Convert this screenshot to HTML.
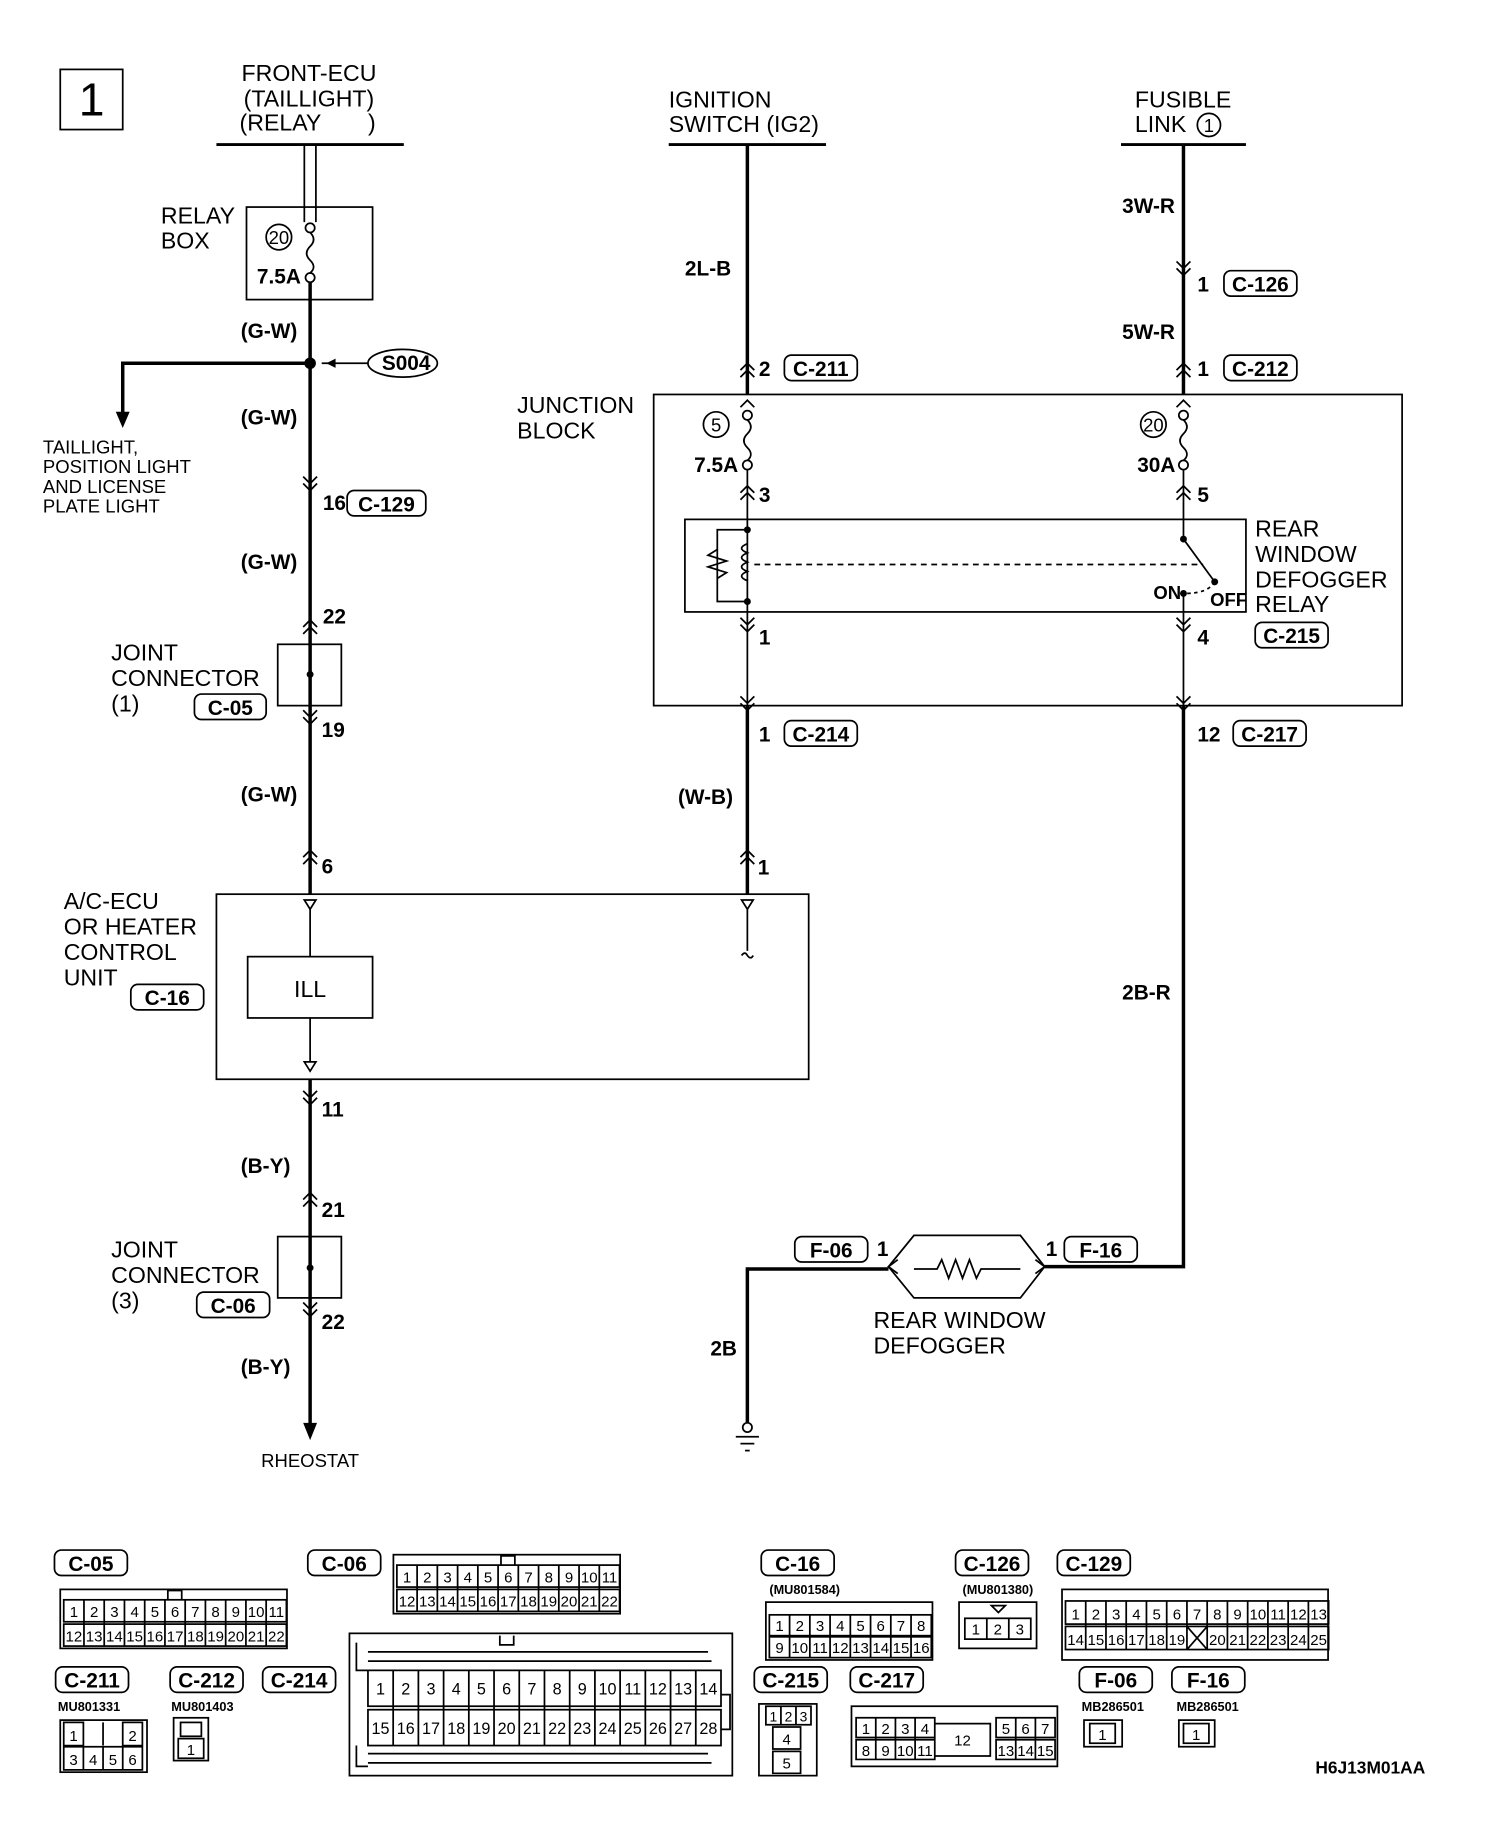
<!DOCTYPE html>
<html><head><meta charset="utf-8"><style>
html,body{margin:0;padding:0;background:#fff;}
svg{display:block;}
text{font-family:"Liberation Sans",sans-serif;fill:#000;}
.h{font-size:20px;}
.w{font-size:18px;font-weight:bold;}
.s{font-size:16px;}
.c{font-size:18px;font-weight:bold;}
.g{font-size:13px;}
.m{font-size:11px;font-weight:bold;}
</style></head><body>
<svg width="1504" height="1830" viewBox="0 0 1300 1582" xmlns="http://www.w3.org/2000/svg">
<g fill="none" stroke="#000" stroke-width="1.5">
<rect x="52" y="60" width="54" height="52"/>
<line x1="187" y1="125" x2="349" y2="125" stroke-width="2.5"/>
<line x1="578" y1="125" x2="714" y2="125" stroke-width="2.5"/>
<line x1="969" y1="125" x2="1077" y2="125" stroke-width="2.5"/>
<line x1="263" y1="125" x2="263" y2="192"/><line x1="273" y1="125" x2="273" y2="192"/>
<rect x="213" y="179" width="109" height="80"/>
<circle cx="241" cy="205" r="11"/>
<circle cx="268" cy="197" r="4"/><circle cx="268" cy="240" r="4"/>
<path d="M268 201 q6 6 0 12 q-6 6 0 12 q6 6 0 11"/>
<line x1="268" y1="244" x2="268" y2="773" stroke-width="3"/>
<line x1="268" y1="933" x2="268" y2="1235" stroke-width="3"/>
<polyline points="268,314 106,314 106,358" stroke-width="3"/>
<ellipse cx="348" cy="314" rx="30" ry="12"/>
<line x1="318" y1="314" x2="278" y2="314"/>
<rect x="240" y="557" width="55" height="53"/>
<rect x="187" y="773" width="512" height="160"/>
<rect x="214" y="827" width="108" height="53"/>
<rect x="240" y="1069" width="55" height="53"/>
<line x1="646" y1="125" x2="646" y2="341" stroke-width="3"/>
<line x1="646" y1="610" x2="646" y2="773" stroke-width="3"/>
<rect x="565" y="341" width="647" height="269"/>
<circle cx="619" cy="367" r="11"/>
<circle cx="646" cy="359" r="4"/><circle cx="646" cy="402" r="4"/>
<path d="M646 363 q6 6 0 12 q-6 6 0 12 q6 6 0 11"/>
<line x1="646" y1="406" x2="646" y2="610"/>
<rect x="592" y="449" width="485" height="80"/>
<path d="M646 458 L620 458 L620 520 L646 520"/>
<path d="M620 475 l-8 5 l16 5 l-16 5 l16 5 l-8 5"/>
<path d="M646 470 q-10 4 0 8 q-10 4 0 8 q-10 4 0 8 q-10 4 0 8"/>
<line x1="652" y1="488" x2="1040" y2="488" stroke-dasharray="5,4"/>
<line x1="1023" y1="125" x2="1023" y2="341" stroke-width="3"/>
<circle cx="997" cy="367" r="11"/>
<circle cx="1023" cy="359" r="4"/><circle cx="1023" cy="402" r="4"/>
<path d="M1023 363 q6 6 0 12 q-6 6 0 12 q6 6 0 11"/>
<line x1="1023" y1="406" x2="1023" y2="466"/>
<line x1="1023" y1="466" x2="1050" y2="503"/>
<path d="M1050 503 q-6 10 -25 10" stroke-dasharray="3,3"/>
<line x1="1023" y1="513" x2="1023" y2="610"/>
<polyline points="1023,610 1023,1095 903,1095" stroke-width="3"/>
<path d="M768 1095 L790 1068 L882 1068 L903 1095 L882 1122 L790 1122 Z"/>
<path d="M790 1097 H810 l4 -8 l6 16 l6 -16 l6 16 l6 -16 l6 16 l4 -8 H882"/>
<polyline points="768,1097 646,1097 646,1230" stroke-width="3"/>
<circle cx="646" cy="1234" r="4"/>
<line x1="636" y1="1242" x2="656" y2="1242"/><line x1="640" y1="1248" x2="652" y2="1248"/><line x1="644" y1="1254" x2="648" y2="1254"/>
<path d="M263 778 h10 l-5 8 z M641 778 h10 l-5 8 z M263 918 h10 l-5 8 z"/>
<line x1="646" y1="786" x2="646" y2="822"/><path d="M641 826 q3 -4 5 0 q3 4 5 0"/>
<line x1="268" y1="786" x2="268" y2="827"/><line x1="268" y1="880" x2="268" y2="918"/>
<!-- chevrons -->
<path d="M262 412 l6 6 l6 -6 M262 418 l6 6 l6 -6
M262 542 l6 -6 l6 6 M262 548 l6 -6 l6 6
M262 614 l6 6 l6 -6 M262 620 l6 6 l6 -6
M262 741 l6 -6 l6 6 M262 747 l6 -6 l6 6
M262 943 l6 6 l6 -6 M262 949 l6 6 l6 -6
M262 1037 l6 -6 l6 6 M262 1043 l6 -6 l6 6
M262 1126 l6 6 l6 -6 M262 1132 l6 6 l6 -6
M640 320 l6 -6 l6 6 M640 326 l6 -6 l6 6
M640 352 l6 -6 l6 6
M640 426 l6 -6 l6 6 M640 432 l6 -6 l6 6
M640 534 l6 6 l6 -6 M640 540 l6 6 l6 -6
M640 602 l6 6 l6 -6 M640 608 l6 6 l6 -6
M640 741 l6 -6 l6 6 M640 747 l6 -6 l6 6
M1017 226 l6 6 l6 -6 M1017 232 l6 6 l6 -6
M1017 320 l6 -6 l6 6 M1017 326 l6 -6 l6 6
M1017 352 l6 -6 l6 6
M1017 426 l6 -6 l6 6 M1017 432 l6 -6 l6 6
M1017 534 l6 6 l6 -6 M1017 540 l6 6 l6 -6
M1017 602 l6 6 l6 -6 M1017 608 l6 6 l6 -6
M776 1089 l-8 6 l8 6 M895 1089 l8 6 l-8 6"/>
<!-- connector labels -->
<g>
<rect x="168" y="600" width="62" height="22" rx="6"/><rect x="170" y="1117" width="63" height="22" rx="6"/>
<rect x="113" y="851" width="63" height="22" rx="6"/><rect x="300" y="424" width="68" height="22" rx="6"/>
<rect x="678" y="307" width="63" height="22" rx="6"/><rect x="1058" y="307" width="63" height="22" rx="6"/>
<rect x="1058" y="234" width="63" height="22" rx="6"/><rect x="678" y="623" width="63" height="22" rx="6"/>
<rect x="1066" y="623" width="63" height="22" rx="6"/><rect x="1085" y="538" width="63" height="22" rx="6"/>
<rect x="920" y="1069" width="63" height="22" rx="6"/><rect x="687" y="1069" width="63" height="22" rx="6"/>
<rect x="47" y="1340" width="63" height="22" rx="6"/><rect x="266" y="1340" width="63" height="22" rx="6"/>
<rect x="48" y="1441" width="63" height="22" rx="6"/><rect x="147" y="1441" width="63" height="22" rx="6"/>
<rect x="227" y="1441" width="63" height="22" rx="6"/><rect x="658" y="1340" width="63" height="22" rx="6"/>
<rect x="826" y="1340" width="63" height="22" rx="6"/><rect x="914" y="1340" width="63" height="22" rx="6"/>
<rect x="652" y="1441" width="63" height="22" rx="6"/><rect x="735" y="1441" width="63" height="22" rx="6"/>
<rect x="933" y="1441" width="63" height="22" rx="6"/><rect x="1013" y="1441" width="63" height="22" rx="6"/>
</g>
<!-- connector grids -->
<g id="c05">
<rect x="52" y="1374" width="196" height="51"/>
<rect x="55" y="1383" width="192.5" height="19"/><rect x="55" y="1404" width="192.5" height="19"/>
<path d="M72.5 1383v40M90 1383v40M107.5 1383v40M125 1383v40M142.5 1383v40M160 1383v40M177.5 1383v40M195 1383v40M212.5 1383v40M230 1383v40M145 1383v-8h12v8"/>
</g>
<g transform="translate(288,-30)">
<rect x="52" y="1374" width="196" height="51"/>
<rect x="55" y="1383" width="192.5" height="19"/><rect x="55" y="1404" width="192.5" height="19"/>
<path d="M72.5 1383v40M90 1383v40M107.5 1383v40M125 1383v40M142.5 1383v40M160 1383v40M177.5 1383v40M195 1383v40M212.5 1383v40M230 1383v40M145 1383v-8h12v8"/>
</g>
<rect x="302" y="1412" width="331" height="123"/>
<rect x="318" y="1444" width="305.2" height="31"/><rect x="318" y="1478" width="305.2" height="31"/>
<path d="M339.8 1444v65M361.6 1444v65M383.4 1444v65M405.2 1444v65M427 1444v65M448.8 1444v65M470.6 1444v65M492.4 1444v65M514.2 1444v65M536 1444v65M557.8 1444v65M579.6 1444v65M601.4 1444v65
M318 1428H612M318 1436H615M318 1516H612M318 1524H615M308 1420v24h10M308 1509v18h10M623 1465h8v30h-8M432 1414v8h12v-8"/>
<rect x="662" y="1385" width="144" height="50"/>
<rect x="665" y="1396" width="140" height="18"/><rect x="665" y="1415" width="140" height="18"/>
<path d="M682.5 1396v37M700 1396v37M717.5 1396v37M735 1396v37M752.5 1396v37M770 1396v37M787.5 1396v37"/>
<rect x="829" y="1385" width="67" height="40"/><rect x="834" y="1399" width="57" height="18"/>
<path d="M853 1399v18M872 1399v18M857 1388h12l-6 6z"/>
<rect x="918" y="1374" width="230" height="61"/>
<rect x="921" y="1384" width="227.5" height="20"/><rect x="921" y="1406" width="227.5" height="20"/>
<path d="M938.5 1384v42M956 1384v42M973.5 1384v42M991 1384v42M1008.5 1384v42M1026 1384v42M1043.5 1384v42M1061 1384v42M1078.5 1384v42M1096 1384v42M1113.5 1384v42M1131 1384v42M1026 1406l17.5 20M1043.5 1406l-17.5 20"/>
<rect x="52" y="1487" width="75" height="45"/>
<path d="M55 1489h17v20h-17zM106 1489h17v20h-17zM55 1510h68v20h-68zM72 1510v20M89 1510v20M106 1510v20M89 1489v20"/>
<rect x="150" y="1485" width="30" height="37"/><rect x="156" y="1489" width="18" height="12"/><rect x="154" y="1503" width="22" height="17"/>
<rect x="656" y="1473" width="50" height="62"/>
<path d="M662 1475h39v16h-39zM675 1475v16M688 1475v16M668 1493h24v19h-24zM668 1514h24v19h-24z"/>
<rect x="736" y="1475" width="178" height="52"/>
<path d="M740 1485h68v17h-68zM740 1504h68v17h-68zM757 1485v36M774 1485v36M791 1485v36M808 1490h48v28h-48zM861 1485h51v17h-51zM861 1504h51v17h-51zM878 1485v36M895 1485v36"/>
<rect x="937" y="1487" width="33" height="23"/><rect x="942" y="1490" width="22" height="17"/>
<rect x="1019" y="1487" width="31" height="23"/><rect x="1023" y="1490" width="22" height="17"/>
</g>
<g fill="#000">
<circle cx="268" cy="314" r="5"/>
<path d="M100 356 h12 l-6 14 z"/>
<path d="M262 1230 h12 l-6 15 z"/>
<path d="M282 314 l8 -4 v8 z"/>
<circle cx="268" cy="583" r="3"/><circle cx="268" cy="1096" r="3"/>
<circle cx="646" cy="458" r="3"/><circle cx="646" cy="520" r="3"/>
<circle cx="1023" cy="466" r="3"/><circle cx="1023" cy="513" r="3"/><circle cx="1050" cy="503" r="3"/>
</g>
<g class="c" text-anchor="middle">
<text x="199" y="618">C-05</text><text x="201.5" y="1135">C-06</text><text x="144.5" y="869">C-16</text>
<text x="334" y="442">C-129</text><text x="709.5" y="325">C-211</text><text x="1089.5" y="325">C-212</text>
<text x="1089.5" y="252">C-126</text><text x="709.5" y="641">C-214</text><text x="1097.5" y="641">C-217</text>
<text x="1116.5" y="556">C-215</text><text x="951.5" y="1087">F-16</text><text x="718.5" y="1087">F-06</text>
<text x="78.5" y="1358">C-05</text><text x="297.5" y="1358">C-06</text><text x="79.5" y="1459">C-211</text>
<text x="178.5" y="1459">C-212</text><text x="258.5" y="1459">C-214</text><text x="689.5" y="1358">C-16</text>
<text x="857.5" y="1358">C-126</text><text x="945.5" y="1358">C-129</text><text x="683.5" y="1459">C-215</text>
<text x="766.5" y="1459">C-217</text><text x="964.5" y="1459">F-06</text><text x="1044.5" y="1459">F-16</text>
</g>
<g class="g" text-anchor="middle">
<text x="63.8" y="1398">1</text><text x="81.3" y="1398">2</text><text x="98.8" y="1398">3</text><text x="116.3" y="1398">4</text><text x="133.8" y="1398">5</text><text x="151.3" y="1398">6</text><text x="168.8" y="1398">7</text><text x="186.3" y="1398">8</text><text x="203.8" y="1398">9</text><text x="221.3" y="1398">10</text><text x="238.8" y="1398">11</text>
<text x="63.8" y="1419">12</text><text x="81.3" y="1419">13</text><text x="98.8" y="1419">14</text><text x="116.3" y="1419">15</text><text x="133.8" y="1419">16</text><text x="151.3" y="1419">17</text><text x="168.8" y="1419">18</text><text x="186.3" y="1419">19</text><text x="203.8" y="1419">20</text><text x="221.3" y="1419">21</text><text x="238.8" y="1419">22</text>
<g transform="translate(288,-30)">
<text x="63.8" y="1398">1</text><text x="81.3" y="1398">2</text><text x="98.8" y="1398">3</text><text x="116.3" y="1398">4</text><text x="133.8" y="1398">5</text><text x="151.3" y="1398">6</text><text x="168.8" y="1398">7</text><text x="186.3" y="1398">8</text><text x="203.8" y="1398">9</text><text x="221.3" y="1398">10</text><text x="238.8" y="1398">11</text>
<text x="63.8" y="1419">12</text><text x="81.3" y="1419">13</text><text x="98.8" y="1419">14</text><text x="116.3" y="1419">15</text><text x="133.8" y="1419">16</text><text x="151.3" y="1419">17</text><text x="168.8" y="1419">18</text><text x="186.3" y="1419">19</text><text x="203.8" y="1419">20</text><text x="221.3" y="1419">21</text><text x="238.8" y="1419">22</text>
</g>
<g style="font-size:14px">
<text x="328.9" y="1465">1</text><text x="350.7" y="1465">2</text><text x="372.5" y="1465">3</text><text x="394.3" y="1465">4</text><text x="416.1" y="1465">5</text><text x="437.9" y="1465">6</text><text x="459.7" y="1465">7</text><text x="481.5" y="1465">8</text><text x="503.3" y="1465">9</text><text x="525.1" y="1465">10</text><text x="546.9" y="1465">11</text><text x="568.7" y="1465">12</text><text x="590.5" y="1465">13</text><text x="612.3" y="1465">14</text>
<text x="328.9" y="1499">15</text><text x="350.7" y="1499">16</text><text x="372.5" y="1499">17</text><text x="394.3" y="1499">18</text><text x="416.1" y="1499">19</text><text x="437.9" y="1499">20</text><text x="459.7" y="1499">21</text><text x="481.5" y="1499">22</text><text x="503.3" y="1499">23</text><text x="525.1" y="1499">24</text><text x="546.9" y="1499">25</text><text x="568.7" y="1499">26</text><text x="590.5" y="1499">27</text><text x="612.3" y="1499">28</text>
</g>
<text x="673.8" y="1410">1</text><text x="691.3" y="1410">2</text><text x="708.8" y="1410">3</text><text x="726.3" y="1410">4</text><text x="743.8" y="1410">5</text><text x="761.3" y="1410">6</text><text x="778.8" y="1410">7</text><text x="796.3" y="1410">8</text>
<text x="673.8" y="1429">9</text><text x="691.3" y="1429">10</text><text x="708.8" y="1429">11</text><text x="726.3" y="1429">12</text><text x="743.8" y="1429">13</text><text x="761.3" y="1429">14</text><text x="778.8" y="1429">15</text><text x="796.3" y="1429">16</text>
<text x="843.5" y="1413">1</text><text x="862.5" y="1413">2</text><text x="881.5" y="1413">3</text>
<text x="929.8" y="1400">1</text><text x="947.3" y="1400">2</text><text x="964.8" y="1400">3</text><text x="982.3" y="1400">4</text><text x="999.8" y="1400">5</text><text x="1017.3" y="1400">6</text><text x="1034.8" y="1400">7</text><text x="1052.3" y="1400">8</text><text x="1069.8" y="1400">9</text><text x="1087.3" y="1400">10</text><text x="1104.8" y="1400">11</text><text x="1122.3" y="1400">12</text><text x="1139.8" y="1400">13</text>
<text x="929.8" y="1422">14</text><text x="947.3" y="1422">15</text><text x="964.8" y="1422">16</text><text x="982.3" y="1422">17</text><text x="999.8" y="1422">18</text><text x="1017.3" y="1422">19</text><text x="1052.3" y="1422">20</text><text x="1069.8" y="1422">21</text><text x="1087.3" y="1422">22</text><text x="1104.8" y="1422">23</text><text x="1122.3" y="1422">24</text><text x="1139.8" y="1422">25</text>
<text x="63.5" y="1505">1</text><text x="114.5" y="1505">2</text>
<text x="63.5" y="1526">3</text><text x="80.5" y="1526">4</text><text x="97.5" y="1526">5</text><text x="114.5" y="1526">6</text>
<text x="165" y="1517">1</text>
<text x="668.5" y="1488" style="font-size:12px">1</text><text x="681.5" y="1488" style="font-size:12px">2</text><text x="694.5" y="1488" style="font-size:12px">3</text>
<text x="680" y="1508">4</text><text x="680" y="1529">5</text>
<text x="748.5" y="1499">1</text><text x="765.5" y="1499">2</text><text x="782.5" y="1499">3</text><text x="799.5" y="1499">4</text>
<text x="748.5" y="1518">8</text><text x="765.5" y="1518">9</text><text x="782.5" y="1518">10</text><text x="799.5" y="1518">11</text>
<text x="832" y="1509">12</text>
<text x="869.5" y="1499">5</text><text x="886.5" y="1499">6</text><text x="903.5" y="1499">7</text>
<text x="869.5" y="1518">13</text><text x="886.5" y="1518">14</text><text x="903.5" y="1518">15</text>
<text x="953" y="1504">1</text><text x="1034" y="1504">1</text>
</g>
<text x="68" y="100" style="font-size:40px">1</text>
<text class="h" x="267" y="70" text-anchor="middle">FRONT-ECU</text>
<text class="h" x="267" y="92" text-anchor="middle">(TAILLIGHT)</text>
<text class="h" x="207" y="113">(RELAY</text><text class="h" x="318" y="113">)</text>
<text class="h" x="139" y="193">RELAY</text><text class="h" x="139" y="215">BOX</text>
<text class="s" x="241" y="211" text-anchor="middle">20</text>
<text class="c" x="222" y="245">7.5A</text>
<text class="w" x="208" y="292">(G-W)</text>
<text class="w" x="208" y="367">(G-W)</text>
<text class="w" x="208" y="492">(G-W)</text>
<text class="w" x="208" y="693">(G-W)</text>
<text class="w" x="208" y="1014">(B-Y)</text>
<text class="w" x="208" y="1188">(B-Y)</text>
<text class="c" x="330" y="320">S004</text>
<text class="s" x="37" y="392">TAILLIGHT,</text>
<text class="s" x="37" y="409">POSITION LIGHT</text>
<text class="s" x="37" y="426">AND LICENSE</text>
<text class="s" x="37" y="443">PLATE LIGHT</text>
<text class="c" x="279" y="441">16</text>
<text class="c" x="279" y="539">22</text>
<text class="h" x="96" y="571">JOINT</text><text class="h" x="96" y="593">CONNECTOR</text><text class="h" x="96" y="615">(1)</text>
<text class="c" x="278" y="637">19</text>
<text class="c" x="278" y="755">6</text>
<text class="h" x="55" y="786">A/C-ECU</text><text class="h" x="55" y="808">OR HEATER</text><text class="h" x="55" y="830">CONTROL</text><text class="h" x="55" y="852">UNIT</text>
<text class="h" x="268" y="862" text-anchor="middle">ILL</text>
<text class="c" x="278" y="965">11</text>
<text class="c" x="278" y="1052">21</text>
<text class="h" x="96" y="1087">JOINT</text><text class="h" x="96" y="1109">CONNECTOR</text><text class="h" x="96" y="1131">(3)</text>
<text class="c" x="278" y="1149">22</text>
<text class="s" x="268" y="1268" text-anchor="middle">RHEOSTAT</text>
<text class="h" x="578" y="93">IGNITION</text><text class="h" x="578" y="114">SWITCH (IG2)</text>
<text class="w" x="592" y="238">2L-B</text>
<text class="c" x="656" y="325">2</text>
<text class="h" x="447" y="357">JUNCTION</text><text class="h" x="447" y="379">BLOCK</text>
<text class="s" x="619" y="373" text-anchor="middle">5</text>
<text class="c" x="600" y="408">7.5A</text>
<text class="c" x="656" y="434">3</text>
<text class="c" x="656" y="557">1</text>
<text class="c" x="656" y="641">1</text>
<text class="w" x="586" y="695">(W-B)</text>
<text class="c" x="655" y="756">1</text>
<text class="h" x="981" y="93">FUSIBLE</text><text class="h" x="981" y="114">LINK</text>
<circle cx="1045" cy="108" r="10" fill="none" stroke="#000" stroke-width="1.5"/>
<text class="s" x="1045" y="114" text-anchor="middle">1</text>
<text class="w" x="970" y="184">3W-R</text>
<text class="c" x="1035" y="252">1</text>
<text class="w" x="970" y="293">5W-R</text>
<text class="c" x="1035" y="325">1</text>
<text class="s" x="997" y="373" text-anchor="middle">20</text>
<text class="c" x="983" y="408">30A</text>
<text class="c" x="1035" y="434">5</text>
<text class="c" x="1035" y="557">4</text>
<text class="h" x="1085" y="464">REAR</text><text class="h" x="1085" y="486">WINDOW</text><text class="h" x="1085" y="508">DEFOGGER</text><text class="h" x="1085" y="529">RELAY</text>
<text class="s" x="997" y="518" style="font-weight:bold">ON</text><text class="s" x="1046" y="524" style="font-weight:bold">OFF</text>
<text class="c" x="1035" y="641">12</text>
<text class="w" x="970" y="864">2B-R</text>
<text class="c" x="904" y="1086">1</text>
<text class="c" x="758" y="1086">1</text>
<text class="h" x="755" y="1148">REAR WINDOW</text><text class="h" x="755" y="1170">DEFOGGER</text>
<text class="w" x="614" y="1172">2B</text>
<text class="m" x="665" y="1378">(MU801584)</text>
<text class="m" x="832" y="1378">(MU801380)</text>
<text class="m" x="50" y="1479">MU801331</text>
<text class="m" x="148" y="1479">MU801403</text>
<text class="m" x="935" y="1479">MB286501</text>
<text class="m" x="1017" y="1479">MB286501</text>
<text x="1137" y="1533" style="font-size:15px;font-weight:bold">H6J13M01AA</text>
</svg>
</body></html>
